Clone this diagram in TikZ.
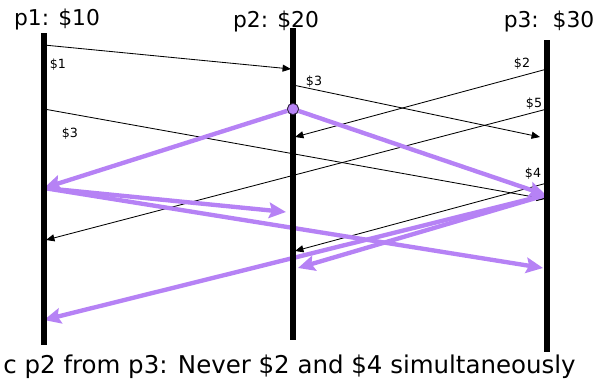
\documentclass[tikz,border=0pt]{standalone}
\usepackage{fontspec}
\setmainfont{DejaVu Sans}
\usetikzlibrary{arrows.meta}
\definecolor{lilac}{RGB}{182,130,245}

\tikzset{
  proc/.style={line width=3.6pt, black},
  msg/.style={line width=0.6pt, -{Triangle[length=6pt,width=5pt]}},
  snap/.style={line width=3.1pt, lilac, -{Stealth[length=12pt,width=11pt,inset=2pt]}},
  mark dot/.style={circle, fill=lilac, draw=black!70!lilac, line width=0.6pt,
    minimum size=8pt, inner sep=0pt},
  lbl/.style={font=\fontsize{9}{10}\selectfont, inner sep=0pt},
  head/.style={font=\fontsize{15.5}{18}\selectfont, inner sep=0pt},
}

\begin{document}
\begin{tikzpicture}[x=0.025cm, y=-0.025cm, line width=0.6pt]
  \useasboundingbox (0,0) rectangle (606,391);

  % process lines
  \coordinate (p1top) at (44,33);
  \coordinate (p1bot) at (44,345);
  \coordinate (p2top) at (293,28);
  \coordinate (p2bot) at (293,340);
  \coordinate (p3top) at (547,40);
  \coordinate (p3bot) at (547,352);

  \node[head] (h1) at (57,19) {p1: \$10};
  \node[head] (h2) at (276,21) {p2: \$20};
  \node[head] (h3) at (549,21) {p3:\ \ \$30};

  % transfers
  \coordinate (m1s) at (44,45);   \coordinate (m1r) at (291,69);
  \coordinate (m2s) at (44,109);  \coordinate (m2r) at (545,199);
  \coordinate (m3s) at (293,85);  \coordinate (m3r) at (540,137);
  \coordinate (m4s) at (547,69);  \coordinate (m4r) at (295,137);
  \coordinate (m5s) at (547,109); \coordinate (m5r) at (46,240);
  \coordinate (m6s) at (547,183); \coordinate (m6r) at (295,251);

  \foreach \m in {1,...,6} {
    \draw[msg] (m\m s) -- (m\m r);
  }

  \node[lbl] (l1) at (58,65) {\$1};
  \node[lbl] (l2) at (70,134) {\$3};
  \node[lbl] (l3) at (314,82) {\$3};
  \node[lbl] (l4) at (522,64) {\$2};
  \node[lbl] (l5) at (534,104) {\$5};
  \node[lbl] (l6) at (533,174) {\$4};

  % snapshot markers
  \node[mark dot] (marker) at (293,109) {};
  \coordinate (c1) at (44,188);
  \coordinate (c3) at (546,195);
  \coordinate (e1) at (286,212);
  \coordinate (e2) at (543,268);
  \coordinate (e3) at (298,268);
  \coordinate (e4) at (44,320);

  \draw[snap] (marker) -- (c1);
  \draw[snap] (marker) -- (c3);
  \draw[snap] (c1) -- (e1);
  \draw[snap] (c1) -- (e2);
  \draw[snap] (c3) -- (e3);
  \draw[snap] (c3) -- (e4);

  \foreach \p in {p1,p2,p3} {
    \draw[proc] (\p top) -- (\p bot);
  }
  \node[mark dot] at (marker) {};

  \node[font=\fontsize{17.4}{20}\selectfont, inner sep=0pt, anchor=base west]
    (caption) at (3,373) {c p2 from p3: Never \$2 and \$4 simultaneously};

\end{tikzpicture}
\end{document}
